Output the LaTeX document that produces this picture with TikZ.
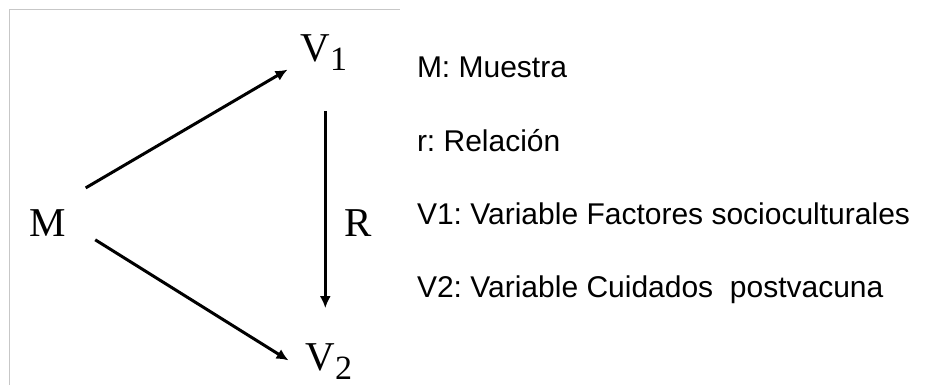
\documentclass[tikz,border=0pt]{standalone}
\usepackage{fontspec}
\setmainfont{Liberation Serif}
\newfontfamily\legendfont{Liberation Sans}
\usetikzlibrary{arrows.meta,calc}
\frenchspacing
\begin{document}
\begin{tikzpicture}[x=1pt,y=1pt,
  var/.style={inner sep=0pt, outer sep=0pt, anchor=base west, font=\fontsize{41}{45}\selectfont},
  legend/.style={inner sep=0pt, outer sep=0pt, anchor=base west, font=\legendfont\fontsize{30}{34}\selectfont},
  arr/.style={line width=3pt, -{Latex[length=12pt,width=11pt]}},
  frame/.style={draw=black!22, line width=1pt}]
\useasboundingbox (0,0) rectangle (949,385);
\draw[frame] (9.5,0) -- (9.5,375.5) -- (400,375.5);
\newcommand{\subidx}[1]{\raisebox{-9pt}{\fontsize{34}{34}\selectfont #1}}
\node[var] (M) at (29.5,148) {M};
\node[var] (V1) at (300.5,323) {V\subidx{1}};
\node[var] (V2) at (305.5,14) {V\subidx{2}};
\node[var] (R) at (344.5,148) {R};
\draw[arr, shorten <=44pt, shorten >=15pt] (M.north) -- (V1.base west);
\draw[arr, shorten <=56pt, shorten >=20pt] (M.north) -- (V2.base west);
\draw[arr, shorten <=40pt, shorten >=36pt] ([xshift=1.5pt]V1.south) -- ([xshift=1.5pt]V1.south |- V2.north);
\node[legend] (L1) at (417,307) {M: Muestra};
\node[legend] (L2) at (417,233.5) {r: Relación};
\node[legend] (L3) at (417,160) {V1: Variable Factores socioculturales};
\node[legend] (L4) at (417,87) {V2: Variable Cuidados\ \ postvacuna};
\end{tikzpicture}
\end{document}
